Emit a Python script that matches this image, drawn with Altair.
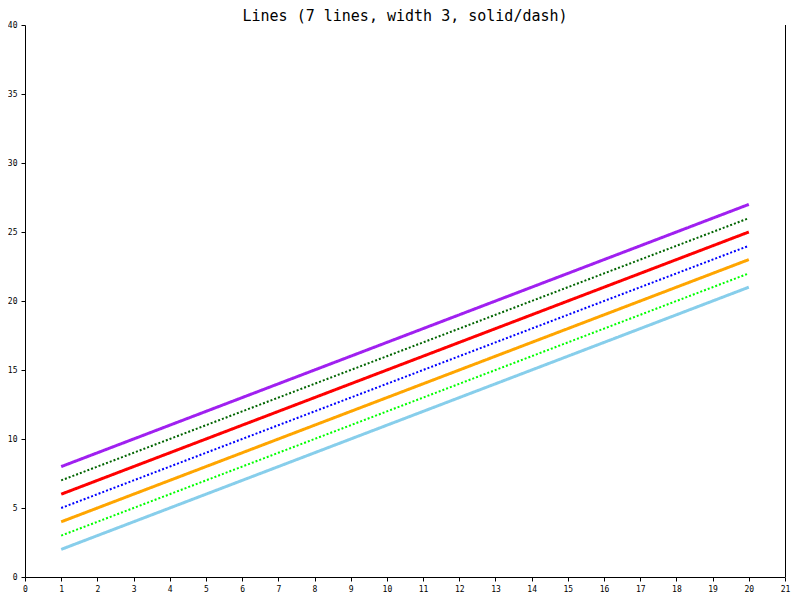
import altair as alt
import pandas as pd

xs = list(range(1, 21))
series_names = ["s1", "s2", "s3", "s4", "s5", "s6", "s7"]
series_colors = ["#87CEEB", "#00FF00", "#FFA500", "#0000FF", "#FF0000", "#006400", "#A020F0"]
series_styles = ["solid", "dot", "solid", "dot", "solid", "dot", "solid"]
s1 = [2, 3, 4, 5, 6, 7, 8, 9, 10, 11, 12, 13, 14, 15, 16, 17, 18, 19, 20, 21]
s2 = [3, 4, 5, 6, 7, 8, 9, 10, 11, 12, 13, 14, 15, 16, 17, 18, 19, 20, 21, 22]
s3 = [4, 5, 6, 7, 8, 9, 10, 11, 12, 13, 14, 15, 16, 17, 18, 19, 20, 21, 22, 23]
s4 = [5, 6, 7, 8, 9, 10, 11, 12, 13, 14, 15, 16, 17, 18, 19, 20, 21, 22, 23, 24]
s5 = [6, 7, 8, 9, 10, 11, 12, 13, 14, 15, 16, 17, 18, 19, 20, 21, 22, 23, 24, 25]
s6 = [7, 8, 9, 10, 11, 12, 13, 14, 15, 16, 17, 18, 19, 20, 21, 22, 23, 24, 25, 26]
s7 = [8, 9, 10, 11, 12, 13, 14, 15, 16, 17, 18, 19, 20, 21, 22, 23, 24, 25, 26, 27]
all_series = [s1, s2, s3, s4, s5, s6, s7]
x_ticks = list(range(0, 22))
y_ticks = list(range(0, 41, 5))

rows = []
for name, style, ys in zip(series_names, series_styles, all_series):
    for x, y in zip(xs, ys):
        rows.append({"x": x, "y": y, "series": name, "style": style})
df = pd.DataFrame(rows)

FONT = "DejaVu Sans Mono"

xscale = alt.Scale(domain=[0, 21], nice=False, zero=False)
xaxis = alt.Axis(values=x_ticks, title=None, grid=False, labelOverlap=False,
                 labelFlush=False, labelBound=False,
                 tickSize=4, labelPadding=4, labelFont=FONT, labelFontSize=8,
                 labelColor="black", domainColor="black", tickColor="black")
yaxis = alt.Axis(values=y_ticks, title=None, grid=False, labelOverlap=False,
                 labelFlush=False, labelBound=False,
                 tickSize=4, labelPadding=4, labelFont=FONT, labelFontSize=8,
                 labelColor="black", domainColor="black", tickColor="black")

lines = alt.Chart(df).mark_line().encode(
    x=alt.X("x:Q", scale=xscale, axis=xaxis),
    y=alt.Y("y:Q", scale=alt.Scale(domain=[0, 40], nice=False), axis=yaxis),
    color=alt.Color("series:N", scale=alt.Scale(domain=series_names, range=series_colors), legend=None),
    strokeDash=alt.StrokeDash("style:N", scale=alt.Scale(domain=["solid", "dot"], range=[[1, 0], [2, 2]]), legend=None),
    strokeWidth=alt.StrokeWidth("style:N", scale=alt.Scale(domain=["solid", "dot"], range=[3, 2]), legend=None),
    detail="series:N",
)

right_edge = alt.Chart(pd.DataFrame({"x": [21]})).mark_rule(
    color="black", strokeWidth=1, opacity=1, xOffset=0.5
).encode(
    x=alt.X("x:Q", scale=xscale, axis=xaxis)
)

chart = alt.layer(lines, right_edge).properties(
    width=760,
    height=552,
    padding={"left": 17, "top": 17, "right": 7, "bottom": 15},
    autosize=alt.AutoSizeParams(type="none"),
    title=alt.Title("Lines (7 lines, width 3, solid/dash)", font=FONT, fontSize=15,
                    fontWeight="normal", color="black", offset=-3, frame="group"),
).configure_view(stroke=None)

chart.save("out.html", embed_options={"renderer": "svg", "actions": False})
